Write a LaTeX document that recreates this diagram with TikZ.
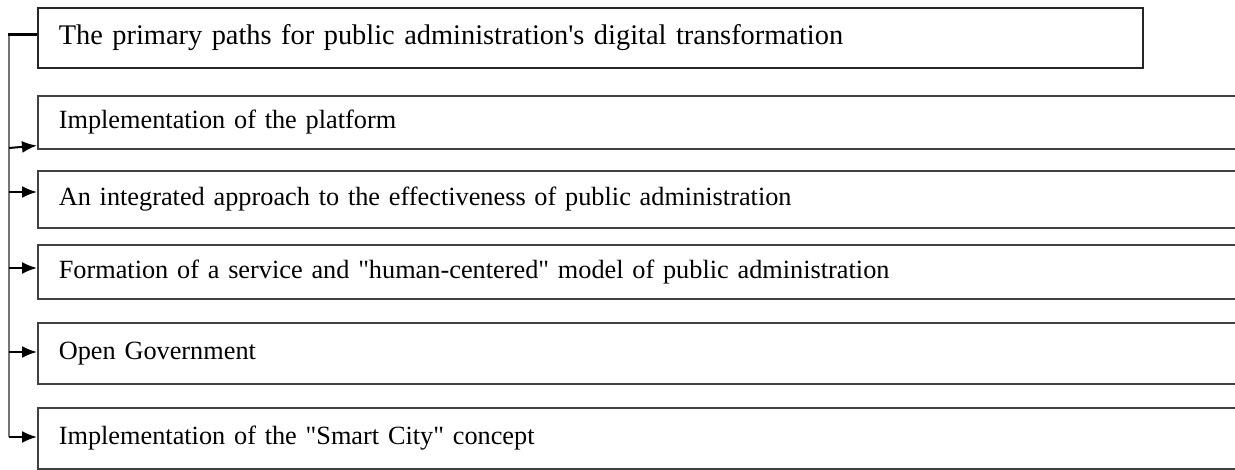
\documentclass[tikz,border=0pt]{standalone}
\usepackage{fontspec}
\newfontfamily\lserif{Liberation Serif}
\usetikzlibrary{arrows.meta}
\begin{document}
\begin{tikzpicture}[x=1pt,y=-1pt,
  itembox/.style={draw=black!75, line width=1.6pt, anchor=north west, inner xsep=21pt, inner ysep=0pt,
    text width=1200pt, align=left, font=\lserif\fontsize{26.3}{30}\selectfont},
  topbox/.style={draw=black!85, line width=1.6pt, anchor=north west, inner xsep=21pt, inner ysep=0pt,
    text width=1063pt, minimum height=60pt, align=left, font=\lserif\fontsize{28.4}{32}\selectfont},
  trunk/.style={draw=black!55, line width=2.2pt},
  stub/.style={draw=black, line width=3pt},
  arr/.style={draw=black, line width=2pt, -{Latex[length=15pt,width=12pt]}}]
\useasboundingbox (0,0) rectangle (1235,470);
\clip (0,0) rectangle (1235,470);
\node[topbox] (t) at (37,7) {The primary paths for public administration's digital transformation};
\node[itembox, minimum height=53pt] (b1) at (37,95) {Implementation of the platform};
\node[itembox, minimum height=57pt] (b2) at (37,170) {An integrated approach to the effectiveness of public administration};
\node[itembox, minimum height=54pt] (b3) at (37,244) {Formation of a service and "human-centered" model of public administration};
\node[itembox, minimum height=61pt] (b4) at (37,322) {Open Government};
\node[itembox, minimum height=61pt] (b5) at (37,407) {Implementation of the "Smart City" concept};
\coordinate (top) at (9,35);
\coordinate (bot) at (9,437);
\draw[trunk] (top) -- (bot);
\draw[stub] ([xshift=-1pt]top) -- (t.west |- top);
\draw[arr] (9,148) -- ([yshift=4pt]b1.south west);
\draw[arr] (9,192) -- (b2.west |- 0,192);
\draw[arr] (9,268) -- (b3.west |- 0,268);
\draw[arr] (9,352) -- (b4.west |- 0,352);
\draw[arr] (bot) -- (b5.west |- bot);
\end{tikzpicture}
\end{document}
